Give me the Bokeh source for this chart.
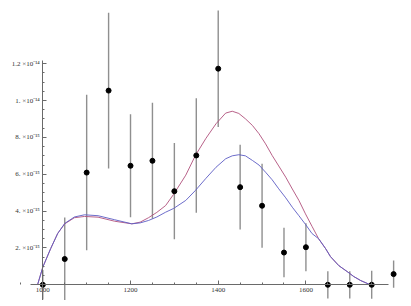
from bokeh.plotting import figure
from bokeh.models import Range1d, LinearAxis, FixedTicker, ColumnDataSource
from bokeh.embed import file_html
from bokeh.resources import INLINE

# measured points (rate in units of 1e-15)
mass = [1000, 1050, 1100, 1150, 1200, 1250, 1300, 1350, 1400,
        1450, 1500, 1550, 1600, 1650, 1700, 1750, 1800]
rate = [0.0, 1.40, 6.09, 10.54, 6.46, 6.73, 5.08, 7.02, 11.73,
        5.30, 4.29, 1.75, 2.04, 0.0, 0.0, 0.0, 0.58]
rate_err = [0.80, 2.25, 4.22, 4.23, 2.79, 3.15, 2.61, 3.11, 3.16,
            2.30, 2.28, 1.34, 1.30, 0.74, 0.74, 0.76, 0.74]

# model curves
curve_x = [988, 1000, 1018, 1034, 1050, 1072, 1095, 1126, 1164, 1203, 1222, 1241,
           1260, 1280, 1298, 1326, 1348, 1372, 1395, 1417, 1432, 1447, 1462, 1478,
           1493, 1508, 1523, 1538, 1554, 1569, 1584, 1599, 1614, 1629, 1645,
           1656, 1675, 1694, 1709, 1725, 1747]
curve_red = [0.0, 0.96, 1.97, 2.79, 3.31, 3.64, 3.71, 3.67, 3.45, 3.31, 3.40, 3.64,
             3.93, 4.30, 4.90, 5.95, 7.02, 7.95, 8.74, 9.32, 9.42, 9.30, 9.01, 8.65,
             8.20, 7.65, 7.02, 6.45, 5.84, 5.20, 4.58, 3.85, 3.17, 2.50, 1.96,
             1.53, 1.04, 0.72, 0.45, 0.23, 0.0]
curve_blue = [0.0, 0.96, 1.97, 2.79, 3.33, 3.68, 3.80, 3.75, 3.53, 3.31, 3.36, 3.49,
              3.68, 3.94, 4.14, 4.58, 5.12, 5.78, 6.38, 6.84, 7.00, 7.06, 7.00, 6.75,
              6.50, 6.11, 5.70, 5.21, 4.72, 4.21, 3.75, 3.28, 2.78, 2.50, 1.96,
              1.53, 1.04, 0.72, 0.45, 0.23, 0.0]

x_ticks = [1000, 1200, 1400, 1600]
x_tick_labels = ["1000", "1200", "1400", "1600"]
y_ticks = [2, 4, 6, 8, 10, 12]
y_tick_labels = ["2. ×10⁻¹⁵", "4. ×10⁻¹⁵", "6. ×10⁻¹⁵", "8. ×10⁻¹⁵",
                 "1. ×10⁻¹⁴", "1.2 ×10⁻¹⁴"]

lo = [r - e for r, e in zip(rate, rate_err)]
hi = [r + e for r, e in zip(rate, rate_err)]
src = ColumnDataSource(dict(mass=mass, rate=rate, lo=lo, hi=hi))

p = figure(width=405, height=300, output_backend="svg", toolbar_location=None,
           x_range=Range1d(903.5, 1827.1), y_range=Range1d(-0.852, 15.43),
           x_axis_location=None, y_axis_location=None,
           min_border=0, outline_line_color=None)
p.xgrid.visible = False
p.ygrid.visible = False

FONT = "Liberation Serif"

xaxis = LinearAxis(fixed_location=0, bounds=(972, 1788),
                   ticker=FixedTicker(ticks=x_ticks,
                                      minor_ticks=list(range(950, 1800, 50))))
xaxis.major_label_overrides = dict(zip(x_ticks, x_tick_labels))
yaxis = LinearAxis(fixed_location=1000, bounds=(-0.85, 12.15),
                   ticker=FixedTicker(ticks=y_ticks,
                                      minor_ticks=[i * 0.5 for i in range(0, 25)]))
yaxis.major_label_overrides = dict(zip(y_ticks, y_tick_labels))
for ax in (xaxis, yaxis):
    ax.axis_line_color = "#6a6a6a"
    ax.axis_line_width = 1
    ax.major_tick_line_color = "#6a6a6a"
    ax.minor_tick_line_color = "#6a6a6a"
    ax.major_tick_in = 4
    ax.major_tick_out = 0
    ax.minor_tick_in = 2
    ax.minor_tick_out = 0
    ax.major_label_text_font = FONT
    ax.major_label_text_font_size = "7px"
    ax.major_label_text_color = "#333333"
    ax.major_label_standoff = 3
p.add_layout(xaxis, "below")
p.add_layout(yaxis, "left")

p.segment(x0="mass", y0="lo", x1="mass", y1="hi", source=src,
          line_color="#8f8f8f", line_width=1.4)
p.line(curve_x, curve_red, line_color="#b0507c", line_width=0.9)
p.line(curve_x, curve_blue, line_color="#5c5cc4", line_width=0.9)
p.scatter(x="mass", y="rate", source=src, size=5, fill_color="black",
          line_color="black", line_width=1)

open("out.html", "w").write(file_html(p, INLINE))
